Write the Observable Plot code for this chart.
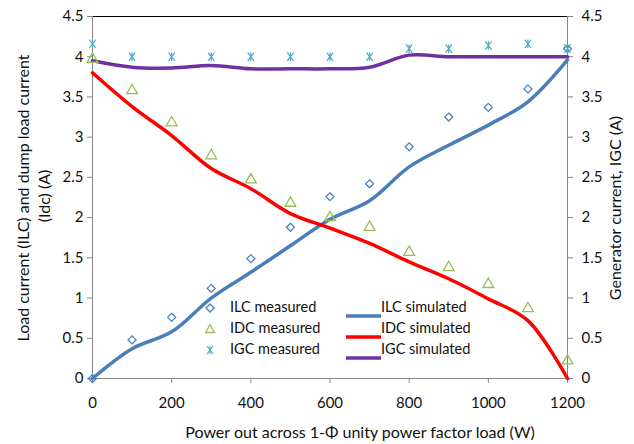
<!DOCTYPE html>
<html><head><meta charset="utf-8">
<script src="https://cdn.jsdelivr.net/npm/d3@7"></script>
<script src="https://cdn.jsdelivr.net/npm/@observablehq/plot@0.6"></script>
<style>
body{margin:0;background:#fff;font-family:Lato,"Open Sans",sans-serif}
#wrap{position:relative;width:634px;height:444px;overflow:hidden}
.t{position:absolute;white-space:nowrap;font-size:16px;color:#111;line-height:1}
.rot{transform:translate(-50%,-50%) rotate(-90deg)}
.leg{position:absolute;font-size:14.5px;color:#111;white-space:nowrap;line-height:1}
</style>
</head><body><div id="wrap"></div>
<script>
const power = [0,100,200,300,400,500,600,700,800,900,1000,1100,1200];
const ilcMeasured = [0,0.48,0.76,1.12,1.49,1.88,2.26,2.42,2.88,3.25,3.37,3.60,4.10];
const idcMeasured = [3.97,3.58,3.18,2.77,2.47,2.18,2.00,1.88,1.57,1.38,1.17,0.87,0.22];
const igcMeasured = [4.16,4.00,4.00,4.00,4.00,4.00,4.00,4.00,4.10,4.10,4.14,4.16,4.10];
const ilcSimulated = [0,0.37,0.58,1.00,1.32,1.65,1.98,2.21,2.63,2.90,3.15,3.44,3.96];
const idcSimulated = [3.80,3.38,3.02,2.61,2.36,2.05,1.87,1.68,1.45,1.24,0.99,0.72,0];
const igcSimulated = [3.95,3.87,3.86,3.89,3.85,3.85,3.85,3.87,4.02,4.00,4.00,4.00,4.00];
const yTicks = [0,0.5,1,1.5,2,2.5,3,3.5,4,4.5];
const xTicks = [0,200,400,600,800,1000,1200];
const xTitle = "Power out across 1-\u03A6 unity power factor load (W)";
const yTitle1 = "Load current (ILC) and dump load current";
const yTitle2 = "(Idc) (A)";
const y2Title = "Generator current, IGC (A)";
const legendMeasured = ["ILC measured","IDC measured","IGC measured"];
const legendSimulated = ["ILC simulated","IDC simulated","IGC simulated"];
const colILC = "#4F81BD", colIDCm = "#9BBB59", colIGCm = "#4BACC6";
const colILCs = "#4A7EBB", colIDCs = "#FF0000", colIGCs = "#7030A0";

const rows = power.map((p,i)=>({p, ilcM:ilcMeasured[i], idcM:idcMeasured[i], igcM:igcMeasured[i], ilcS:ilcSimulated[i], idcS:idcSimulated[i], igcS:igcSimulated[i]}));
const fmt = d => String(d);
const curve = "catmull-rom";

// Excel-style star marker: an X plus a vertical stroke
const excelStar = {
  draw(ctx, size) {
    const r = Math.sqrt(size / Math.PI);
    const h = r * 0.75;
    ctx.moveTo(-h, -r); ctx.lineTo(h, r);
    ctx.moveTo(h, -r); ctx.lineTo(-h, r);
    ctx.moveTo(0, -r); ctx.lineTo(0, r);
  }
};

const chart = Plot.plot({
  width:634, height:444,
  marginLeft:92, marginRight:67, marginTop:16, marginBottom:66,
  style:{fontFamily:"Lato, 'Open Sans', sans-serif", fontSize:"15px", background:"#fff", color:"#111"},
  x:{domain:[0,1200]},
  y:{domain:[0,4.5]},
  marks:[
    Plot.ruleY([4.5],{stroke:"#000",strokeWidth:1.2}),
    Plot.ruleY([0],{stroke:"#868686"}),
    Plot.ruleX([0],{stroke:"#868686"}),
    Plot.ruleX([1200],{stroke:"#868686"}),
    Plot.axisY({ticks:yTicks, tickFormat:fmt, tickSize:5, tickPadding:4, stroke:"#868686", fill:"#111", label:null}),
    Plot.axisY({anchor:"right", ticks:yTicks, tickFormat:fmt, tickSize:5, tickPadding:9, stroke:"#868686", fill:"#111", label:null}),
    Plot.axisX({ticks:xTicks, tickFormat:fmt, tickSize:5, tickPadding:14, stroke:"#868686", fill:"#111", label:null}),
    Plot.line(rows,{x:"p",y:"igcS",stroke:colIGCs,strokeWidth:3.5,curve}),
    Plot.line(rows,{x:"p",y:"ilcS",stroke:colILCs,strokeWidth:3.5,curve}),
    Plot.line(rows,{x:"p",y:"idcS",stroke:colIDCs,strokeWidth:3.5,curve}),
    Plot.dot(rows,{x:"p",y:"ilcM",symbol:"diamond2",r:3.6,stroke:colILC,fill:"none",strokeWidth:1.3}),
    Plot.dot(rows,{x:"p",y:"idcM",symbol:"triangle",r:4,stroke:colIDCm,fill:"none",strokeWidth:1.3}),
    Plot.dot(rows,{x:"p",y:"igcM",symbol:excelStar,r:4.2,stroke:colIGCm,fill:"none",strokeWidth:1.2})
  ]
});
const wrap = document.getElementById("wrap");
wrap.appendChild(chart);

function addText(txt, x, y, rot){
  const d = document.createElement("div");
  d.className = "t" + (rot ? " rot" : "");
  d.textContent = txt;
  d.style.left = x+"px"; d.style.top = y+"px";
  if(!rot) d.style.transform = "translate(-50%,-50%)";
  wrap.appendChild(d);
}
addText(xTitle, 360, 432, false);
addText(yTitle1, 23, 198, true);
addText(yTitle2, 44, 196, true);
addText(y2Title, 615, 208, true);

const mSyms = [
  `<path d="M6 2 L10 6 L6 10 L2 6 Z" fill="none" stroke="${colILC}" stroke-width="1.3"/>`,
  `<path d="M6 1.5 L10.3 9.5 L1.7 9.5 Z" fill="none" stroke="${colIDCm}" stroke-width="1.3"/>`,
  `<path d="M3 2 L9 10 M9 2 L3 10 M6 2 L6 10" fill="none" stroke="${colIGCm}" stroke-width="1.2"/>`
];
const sCols = [colILCs, colIDCs, colIGCs];
const rowY = [308,329,350];
legendMeasured.forEach((lab,i)=>{
  const s = document.createElement("div");
  s.className="leg"; s.style.left="204px"; s.style.top=(rowY[i]-6)+"px";
  s.innerHTML = `<svg width="12" height="12">${mSyms[i]}</svg>`;
  wrap.appendChild(s);
  const t = document.createElement("div");
  t.className="leg"; t.style.left="230px"; t.style.top=(rowY[i]-8)+"px"; t.textContent=lab;
  wrap.appendChild(t);
});
legendSimulated.forEach((lab,i)=>{
  const s = document.createElement("div");
  s.className="leg"; s.style.left="346px"; s.style.top=(rowY[i]-2)+"px";
  s.innerHTML = `<svg width="35" height="4"><line x1="0" y1="2" x2="35" y2="2" stroke="${sCols[i]}" stroke-width="3.5"/></svg>`;
  wrap.appendChild(s);
  const t = document.createElement("div");
  t.className="leg"; t.style.left="381px"; t.style.top=(rowY[i]-8)+"px"; t.textContent=lab;
  wrap.appendChild(t);
});
</script>
</body></html>
